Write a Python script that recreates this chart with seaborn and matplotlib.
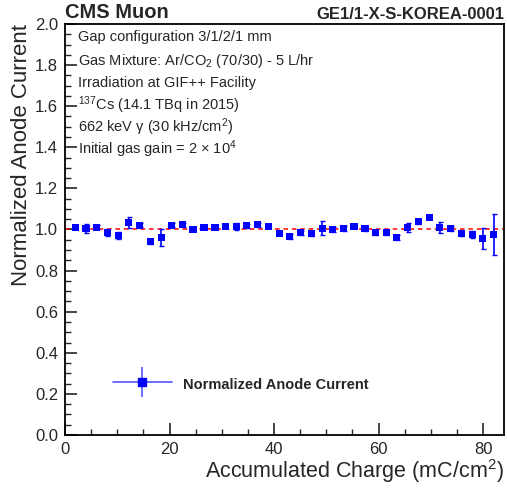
import numpy as np
import pandas as pd
import matplotlib
matplotlib.use('Agg')
import matplotlib.pyplot as plt
import seaborn as sns
from matplotlib.lines import Line2D
from matplotlib.legend_handler import HandlerTuple, HandlerErrorbar
from matplotlib.ticker import MultipleLocator

# accumulated charge (mC/cm^2)
charge = [2.0, 4.0, 6.1, 8.1, 10.2, 12.2, 14.3, 16.3, 18.4, 20.4,
          22.5, 24.5, 26.6, 28.7, 30.7, 32.8, 34.8, 36.9, 38.9, 41.0,
          43.0, 45.1, 47.1, 49.2, 51.2, 53.3, 55.3, 57.4, 59.4, 61.5,
          63.5, 65.6, 67.6, 69.7, 71.7, 73.8, 75.8, 77.9, 79.9, 82.0]
# normalized anode current
current = [1.010, 1.005, 1.010, 0.985, 0.971, 1.034, 1.020, 0.941, 0.961, 1.020,
           1.024, 1.001, 1.010, 1.010, 1.015, 1.015, 1.018, 1.024, 1.015, 0.982,
           0.966, 0.985, 0.980, 1.005, 1.000, 1.005, 1.015, 1.005, 0.985, 0.985,
           0.961, 1.010, 1.039, 1.059, 1.010, 1.005, 0.980, 0.976, 0.956, 0.976]
current_err = [0.010, 0.024, 0.010, 0.018, 0.018, 0.026, 0.010, 0.010, 0.039, 0.010,
               0.010, 0.010, 0.010, 0.010, 0.010, 0.018, 0.010, 0.010, 0.010, 0.010,
               0.010, 0.010, 0.010, 0.034, 0.010, 0.010, 0.010, 0.010, 0.010, 0.010,
               0.010, 0.024, 0.010, 0.010, 0.028, 0.010, 0.010, 0.015, 0.050, 0.098]

info_lines = [
    'Gap configuration 3/1/2/1 mm',
    r'Gas Mixture: Ar/CO$_{2}$ (70/30) - 5 L/hr',
    'Irradiation at GIF++ Facility',
    r'$^{137}$Cs (14.1 TBq in 2015)',
    r'662 keV $\gamma$ (30 kHz/cm$^{2}$)',
    r'Initial gas gain = 2 $\times$ 10$^{4}$',
]

df = pd.DataFrame({'charge': charge, 'current': current, 'err': current_err})

sns.set_style('ticks')
plt.rcParams['font.family'] = ['Liberation Sans', 'DejaVu Sans']
plt.rcParams['mathtext.default'] = 'regular'

fig, ax = plt.subplots(figsize=(5.07, 4.90), dpi=100)
fig.subplots_adjust(left=65 / 507, right=504 / 507, bottom=1 - 435 / 490, top=1 - 24 / 490)

blue = '#0000ff'
ax.axhline(1.0, color='red', lw=1.1, ls=(0, (3, 2.5)), zorder=1)
ax.errorbar(df['charge'], df['current'], yerr=df['err'], fmt='none',
            ecolor=blue, elinewidth=1.2, capsize=1.8, capthick=1.0, zorder=2)
sns.scatterplot(data=df, x='charge', y='current', marker='s', color=blue,
                s=27, edgecolor='none', linewidth=0, ax=ax, zorder=3, legend=False)

ax.set_xlim(0, 84)
ax.set_ylim(0, 2.0)
ax.xaxis.set_major_locator(MultipleLocator(20))
ax.xaxis.set_minor_locator(MultipleLocator(5))
ax.yaxis.set_major_locator(MultipleLocator(0.2))
ax.yaxis.set_minor_locator(MultipleLocator(0.05))
ax.yaxis.set_major_formatter(matplotlib.ticker.FormatStrFormatter('%.1f'))
ax.tick_params(which='major', direction='in', length=8.5, width=1.2, labelsize=12, pad=5)
ax.tick_params(which='minor', direction='in', length=4.3, width=1.0)
for s in ax.spines.values():
    s.set_linewidth(1.3)
    s.set_color('black')

ax.set_xlabel(r'Accumulated Charge (mC/cm$^{2}$)', fontsize=15.5, loc='right', labelpad=0)
ax.set_ylabel('Normalized Anode Current', fontsize=16, loc='top', labelpad=2)

ax.text(0.0, 1.004, 'CMS Muon', transform=ax.transAxes, fontsize=14.5,
        fontweight='bold', ha='left', va='bottom')
ax.text(1.0, 1.004, 'GE1/1-X-S-KOREA-0001', transform=ax.transAxes, fontsize=12,
        fontweight='bold', ha='right', va='bottom')

info_y = [0.968, 0.911, 0.856, 0.803, 0.749, 0.695]
for txt, yy in zip(info_lines, info_y):
    ax.text(0.03, yy, txt, transform=ax.transAxes, fontsize=10.5, ha='left', va='center')

hline = Line2D([], [], color='#5555ff', lw=1.2)
leg_eb = ax.errorbar([], [], yerr=[], fmt='s', color=blue, ecolor='#5555ff',
                     markersize=6, elinewidth=1.2)
leg = ax.legend([(hline, leg_eb)], ['Normalized Anode Current'],
                handler_map={tuple: HandlerTuple(ndivide=1),
                             type(leg_eb): HandlerErrorbar(yerr_size=1.05)},
                loc='center left', bbox_to_anchor=(0.08, 0.124), frameon=False,
                handlelength=4.0, handleheight=1.5, handletextpad=0.8,
                prop={'weight': 'bold', 'size': 10.5})

plt.savefig('out.png', dpi=100)
plt.close()
